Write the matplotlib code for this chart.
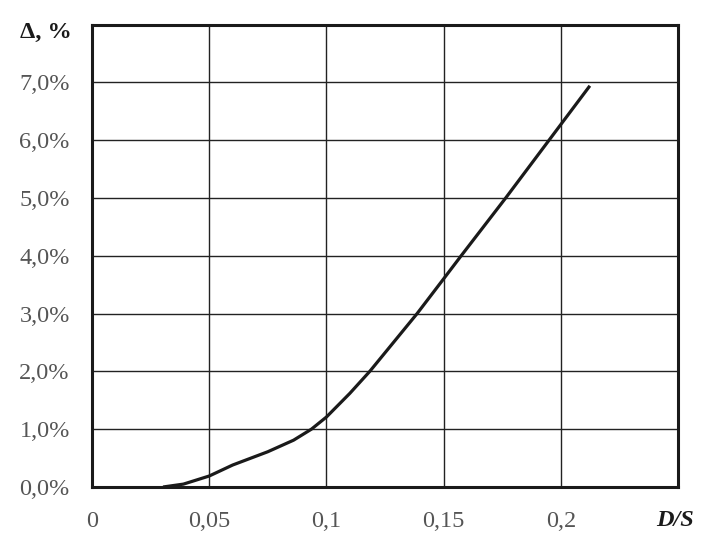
import matplotlib
matplotlib.use("Agg")
import matplotlib.pyplot as plt

# Data
ds = [0.0303, 0.039, 0.050, 0.060, 0.075, 0.086, 0.0936, 0.100, 0.110,
      0.1185, 0.1387, 0.150, 0.1575, 0.1765, 0.195, 0.200, 0.2124]
delta = [0.00, 0.05, 0.19, 0.38, 0.61, 0.81, 1.00, 1.21, 1.62,
         2.00, 3.00, 3.60, 4.00, 5.00, 6.00, 6.27, 6.94]

xticks = [0, 0.05, 0.1, 0.15, 0.2]
xticklabels = ["0", "0,05", "0,1", "0,15", "0,2"]
yticks = [0, 1, 2, 3, 4, 5, 6, 7]
yticklabels = ["0,0%", "1,0%", "2,0%", "3,0%", "4,0%", "5,0%", "6,0%", "7,0%"]

plt.rcParams['font.family'] = ['Liberation Serif']

fig = plt.figure(figsize=(7.13, 5.37), dpi=100)
ax = fig.add_axes([92/713, 1 - 487/537, (678 - 92)/713, (487 - 24.5)/537])

ax.plot(ds, delta, color="#1a1a1a", lw=2.3, solid_joinstyle="round",
        solid_capstyle="butt")

ax.set_xlim(0, 0.25)
ax.set_ylim(0, 8)
ax.set_xticks(xticks + [0.25])
ax.set_xticklabels(xticklabels + [""])
ax.set_yticks(yticks + [8])
ax.set_yticklabels(yticklabels + [""])
ax.grid(True, color="#222222", lw=1.0)
ax.set_axisbelow(True)
for s in ax.spines.values():
    s.set_linewidth(2.2)
    s.set_color("#1a1a1a")
ax.tick_params(length=0, labelsize=17.5, labelcolor="#555555")
ax.tick_params(axis="x", pad=17)
ax.tick_params(axis="y", pad=16)

fig.text(72/713, 1 - 32/537, "Δ, %", ha="right", va="center",
         fontsize=17.5, fontweight="bold", color="#1a1a1a")
fig.text(675/713, 1 - 520/537, "D/S", ha="center", va="center",
         fontsize=17.5, fontweight="bold", fontstyle="italic", color="#1a1a1a")

fig.savefig("out.png", dpi=100)
